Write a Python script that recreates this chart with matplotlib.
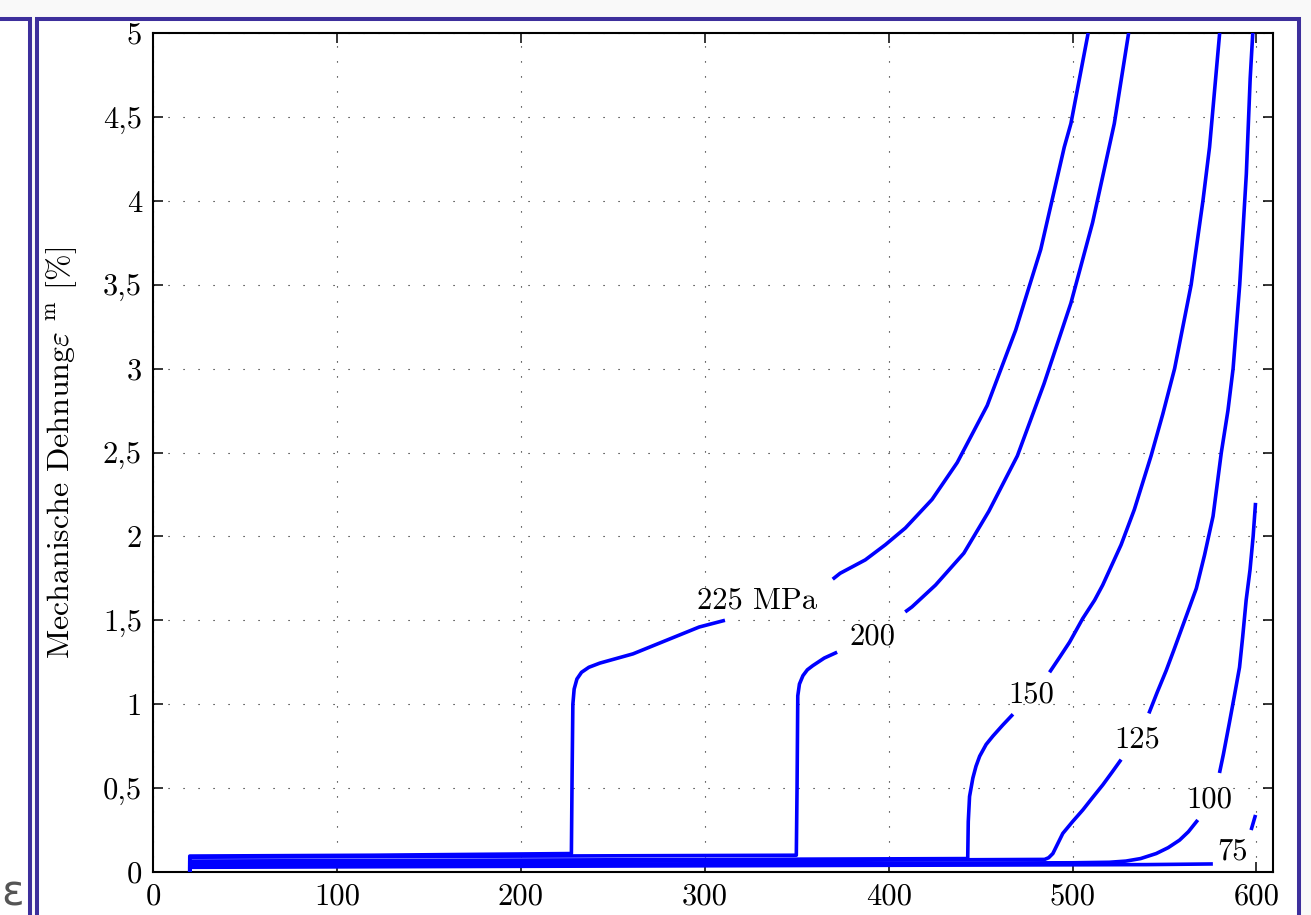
import numpy as np
import matplotlib
matplotlib.use("Agg")
import matplotlib.pyplot as plt
from matplotlib.patches import Rectangle

plt.rcParams['font.family'] = 'cmr10'
plt.rcParams['mathtext.fontset'] = 'cm'

nan = np.nan

# Kriechkurven (Zeit, mech. Dehnung in %), nan = Lücke für die Beschriftung
x_225 = [20, 20, 120, 227.5, 227.9, 228.3, 229.0, 230.5, 233, 237, 243, 261, 279, 297, 311, nan,
         369.6, 373.6, 387.3, 398.2, 409.1, 423.6, 437.3, 453.6, 469.1, 482.7, 495.5, 499.1, 508.5]
y_225 = [0, 0.095, 0.10, 0.11, 0.6, 1.0, 1.09, 1.15, 1.19, 1.22, 1.245, 1.30, 1.38, 1.46, 1.50, nan,
         1.745, 1.78, 1.86, 1.95, 2.05, 2.22, 2.44, 2.78, 3.23, 3.71, 4.32, 4.46, 5.0]

x_200 = [20, 20, 180, 349.8, 350.2, 350.6, 351.5, 353.4, 355.8, 358.8, 365, 372, nan,
         409, 412.7, 425.5, 440.9, 454.5, 470, 484.5, 499.1, 510.9, 522.7, 530.5]
y_200 = [0, 0.088, 0.094, 0.10, 0.5, 1.05, 1.12, 1.17, 1.205, 1.23, 1.275, 1.31, nan,
         1.55, 1.58, 1.71, 1.90, 2.15, 2.48, 2.91, 3.39, 3.87, 4.46, 5.0]

x_150 = [20, 20, 230, 443, 443.3, 444, 445.8, 447.5, 449.5, 453, 456.7, 462, 467.6, nan,
         487.5, 493, 498.4, 505.5, 512, 516.4, 526.4, 533.6, 542.7, 549.1, 555.5, 564.5,
         570.9, 574.5, 580]
y_150 = [0, 0.065, 0.072, 0.08, 0.3, 0.45, 0.56, 0.63, 0.69, 0.76, 0.81, 0.875, 0.94, nan,
         1.19, 1.28, 1.37, 1.51, 1.62, 1.71, 1.95, 2.16, 2.48, 2.73, 3.0, 3.5,
         4.0, 4.32, 5.0]

x_125 = [20, 20, 250, 484.8, 487, 489.3, 492, 494.7, 500, 505.6, 511, 516.5, 521.5, 526.4, nan,
         541.5, 546, 550.9, 555, 559, 563, 567.3, 571.8, 576.4, 580.9, 584.5, 587.3,
         590.9, 594.5, 596.6, 598]
y_125 = [0, 0.055, 0.064, 0.075, 0.085, 0.11, 0.17, 0.23, 0.30, 0.37, 0.445, 0.52, 0.595, 0.67, nan,
         0.945, 1.07, 1.20, 1.32, 1.44, 1.56, 1.69, 1.89, 2.12, 2.5, 2.75, 3.0,
         3.5, 4.16, 4.73, 5.0]

x_100 = [20, 20, 270, 500, 520, 529, 537, 545.5, 552, 558.2, 563, 568.1, nan,
         579.9, 582, 585.3, 588, 590.8, 592.5, 594.4, 596.5, 598.2, 599.5]
y_100 = [0, 0.04, 0.048, 0.055, 0.058, 0.065, 0.08, 0.11, 0.145, 0.19, 0.24, 0.31, nan,
         0.59, 0.70, 0.89, 1.05, 1.22, 1.40, 1.62, 1.80, 2.0, 2.2]

x_75 = [20, 20, 300, 540, 576.3, nan, 597.1, 599.5]
y_75 = [0, 0.028, 0.037, 0.044, 0.048, nan, 0.25, 0.34]

curves = [(x_225, y_225), (x_200, y_200), (x_150, y_150),
          (x_125, y_125), (x_100, y_100), (x_75, y_75)]

# Beschriftungen an den Kurven
label_text = ["225 MPa", "200", "150", "125", "100", "75"]
label_x = [328.3, 391.3, 477.7, 535.3, 574.5, 587]
label_y = [1.615, 1.40, 1.055, 0.787, 0.43, 0.12]

xticks = [0, 100, 200, 300, 400, 500, 600]
yticks = [0, 0.5, 1, 1.5, 2, 2.5, 3, 3.5, 4, 4.5, 5]
ytick_labels = ["0", "0,5", "1", "1,5", "2", "2,5", "3", "3,5", "4", "4,5", "5"]

W, H = 1311, 915
fig = plt.figure(figsize=(W / 100, H / 100), dpi=100, facecolor='#f9f9f9')

# Rahmen der Fenster (hinter den Achsen)
frame_col = '#3d2f9c'
fig.patches.append(Rectangle((37 / W, -0.2), (1299 - 37) / W, 1.2 - 19 / H,
                             transform=fig.transFigure, facecolor='white',
                             edgecolor=frame_col, linewidth=2.9, zorder=-10))
fig.patches.append(Rectangle((-0.05, -0.2), (30 / W) + 0.05, 1.2 - 19 / H,
                             transform=fig.transFigure, facecolor='white',
                             edgecolor=frame_col, linewidth=2.9, zorder=-10))
fig.text(1 / W, 1 - 894 / H, "ε", fontsize=30, family='DejaVu Sans',
         color='#555555', ha='left', va='center', zorder=-5)

ax = fig.add_axes([153 / W, 1 - 872 / H, (1273 - 153) / W, (872 - 33) / H])
ax.set_facecolor('white')

for xs, ys in curves:
    ax.plot(xs, ys, color='#0000ff', linewidth=2.6, solid_capstyle='butt', zorder=3)

for t, lx, ly in zip(label_text, label_x, label_y):
    ax.text(lx, ly, t, fontsize=22, ha='center', va='center', zorder=4)

ax.set_xlim(0, 609)
ax.set_ylim(0, 5)
ax.set_xticks(xticks)
ax.set_xticklabels([str(v) for v in xticks])
ax.set_yticks(yticks)
ax.set_yticklabels(ytick_labels)
ax.tick_params(direction='in', length=7.5, width=1.1, top=True, right=True,
               labelsize=22, pad=8)
ax.grid(True, color='#111111', linewidth=0.8, linestyle=(0, (1, 12.5)))
for s in ax.spines.values():
    s.set_linewidth(1.5)

ax.set_ylabel(r"Mechanische Dehnung$\varepsilon\ ^{\mathrm{m}}$ [%]", fontsize=23)
ax.yaxis.set_label_coords(-0.066, 0.5)

fig.savefig("out.png", dpi=100, facecolor=fig.get_facecolor())
